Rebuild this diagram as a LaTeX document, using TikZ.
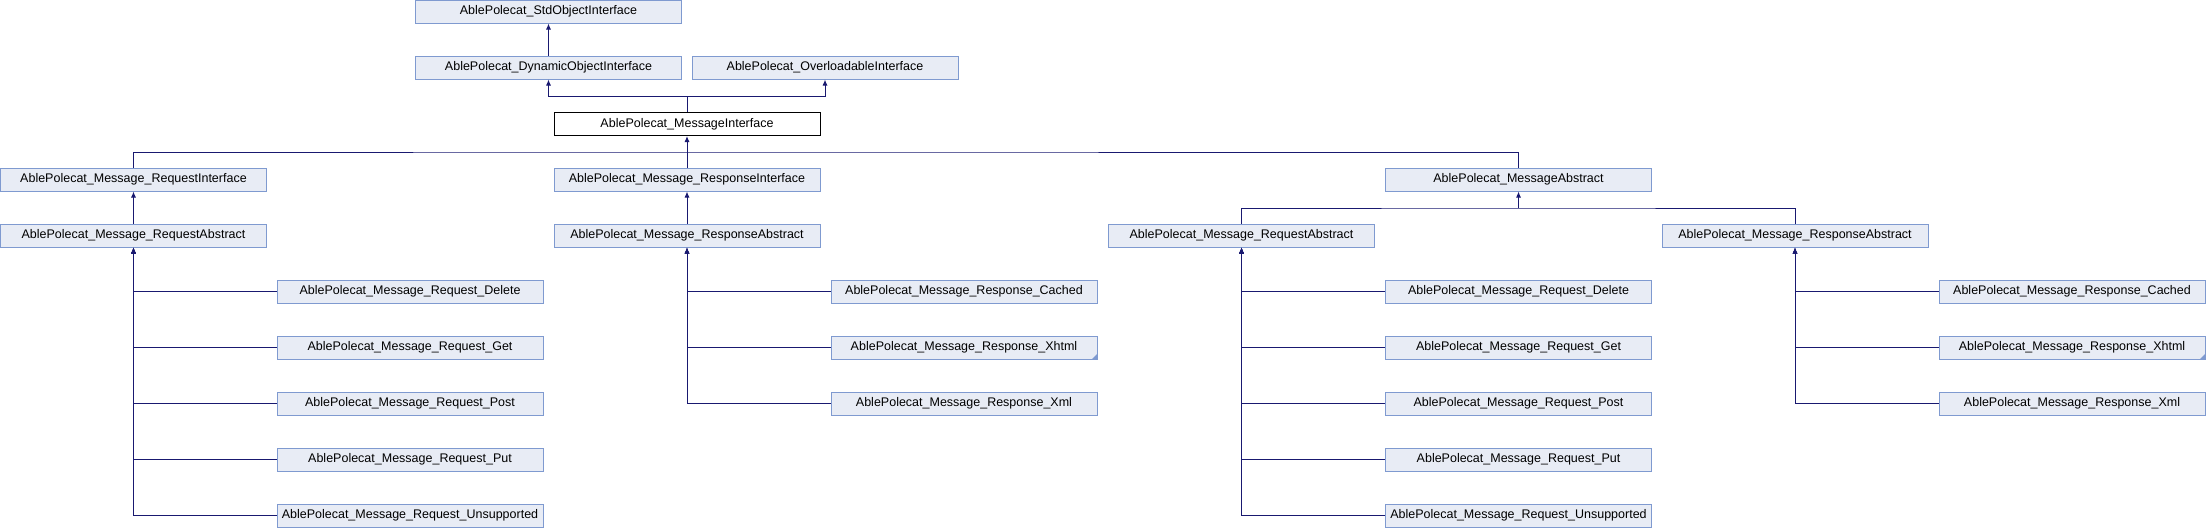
\documentclass[tikz,border=0pt]{standalone}
\usepackage{fontspec}
\setmainfont{Liberation Sans}
\usetikzlibrary{arrows.meta}
\definecolor{boxfill}{HTML}{E8ECF5}
\definecolor{boxline}{HTML}{7F9AD0}
\definecolor{edgeblue}{HTML}{191970}
\tikzset{
  cls/.style={draw=boxline, fill=boxfill, line width=1pt, minimum width=266pt,
    minimum height=23pt, inner sep=0pt, font=\fontsize{12.5}{14}\selectfont},
  cur/.style={cls, draw=black, fill=white},
  inh/.style={draw=edgeblue, line width=1pt, {Latex[length=6pt,width=5pt]}-},
  link/.style={draw=edgeblue, line width=1pt}
}
\begin{document}
\begin{tikzpicture}[x=1pt, y=-1pt]
				\useasboundingbox (0, 0) rectangle (2206, 528);
				
				% top of the hierarchy
				\node[cls] (stdobj) at (548.5, 11.5) {AblePolecat\_StdObjectInterface};
				\node[cls] (dynobj) at (548.5, 67.5) {AblePolecat\_DynamicObjectInterface};
				\node[cls] (overl) at (825, 67.5) {AblePolecat\_OverloadableInterface};
				\node[cur] (msgiface) at (687, 124) {AblePolecat\_MessageInterface};
				
				\node[cls] (reqiface) at (133.5, 179.5) {AblePolecat\_Message\_RequestInterface};
				\node[cls] (respiface) at (687, 179.5) {AblePolecat\_Message\_ResponseInterface};
				\node[cls] (msgabs) at (1518.5, 179.5) {AblePolecat\_MessageAbstract};
				
				\node[cls] (reqabsL) at (133.5, 235.5) {AblePolecat\_Message\_RequestAbstract};
				\node[cls] (respabsL) at (687, 235.5) {AblePolecat\_Message\_ResponseAbstract};
				\node[cls] (reqabsR) at (1241.5, 235.5) {AblePolecat\_Message\_RequestAbstract};
				\node[cls] (respabsR) at (1795, 235.5) {AblePolecat\_Message\_ResponseAbstract};
				
				% leaves, left side
				\node[cls] (delL) at (410, 291.5) {AblePolecat\_Message\_Request\_Delete};
				\node[cls] (getL) at (410, 347.5) {AblePolecat\_Message\_Request\_Get};
				\node[cls] (postL) at (410, 403.5) {AblePolecat\_Message\_Request\_Post};
				\node[cls] (putL) at (410, 459.5) {AblePolecat\_Message\_Request\_Put};
				\node[cls] (unsL) at (410, 515.5) {AblePolecat\_Message\_Request\_Unsupported};
				
				\node[cls] (cachedL) at (964, 291.5) {AblePolecat\_Message\_Response\_Cached};
				\node[cls] (xhtmlL) at (964, 347.5) {AblePolecat\_Message\_Response\_Xhtml};
				\node[cls] (xmlL) at (964, 403.5) {AblePolecat\_Message\_Response\_Xml};
				
				% leaves, right side
				\node[cls] (delR) at (1518.5, 291.5) {AblePolecat\_Message\_Request\_Delete};
				\node[cls] (getR) at (1518.5, 347.5) {AblePolecat\_Message\_Request\_Get};
				\node[cls] (postR) at (1518.5, 403.5) {AblePolecat\_Message\_Request\_Post};
				\node[cls] (putR) at (1518.5, 459.5) {AblePolecat\_Message\_Request\_Put};
				\node[cls] (unsR) at (1518.5, 515.5) {AblePolecat\_Message\_Request\_Unsupported};
				
				\node[cls] (cachedR) at (2072, 291.5) {AblePolecat\_Message\_Response\_Cached};
				\node[cls] (xhtmlR) at (2072, 347.5) {AblePolecat\_Message\_Response\_Xhtml};
				\node[cls] (xmlR) at (2072, 403.5) {AblePolecat\_Message\_Response\_Xml};
				
				% marks on the boxes with hidden children
				\fill[boxline] (xhtmlL.south east) -- ++(-6, 0) -- ++(6, -6) -- cycle;
				\fill[boxline] (xhtmlR.south east) -- ++(-6, 0) -- ++(6, -6) -- cycle;
				
				% junctions
				\coordinate (jtop) at (687, 96);
				\coordinate (jmid) at (687, 152);
				\coordinate (jabs) at (1518.5, 208);
				
				\draw[inh] (stdobj.south) -- (dynobj.north);
				\draw[inh] (dynobj.south) |- (jtop) -- (msgiface.north);
				\draw[inh] (overl.south) |- (jtop);
				
				\draw[inh] (msgiface.south) -- (jmid);
				\draw[link] (reqiface.north) |- (jmid) -| (msgabs.north);
				\draw[link] (respiface.north) -- (jmid);
				
				\draw[inh] (reqiface.south) -- (reqabsL.north);
				\draw[inh] (respiface.south) -- (respabsL.north);
				\draw[inh] (msgabs.south) -- (jabs);
				\draw[link] (reqabsR.north) |- (jabs) -| (respabsR.north);
				
				\draw[inh] (reqabsL.south) |- (delL.west);
				\draw[inh] (reqabsL.south) |- (getL.west);
				\draw[inh] (reqabsL.south) |- (postL.west);
				\draw[inh] (reqabsL.south) |- (putL.west);
				\draw[inh] (reqabsL.south) |- (unsL.west);
				
				\draw[inh] (respabsL.south) |- (cachedL.west);
				\draw[inh] (respabsL.south) |- (xhtmlL.west);
				\draw[inh] (respabsL.south) |- (xmlL.west);
				
				\draw[inh] (reqabsR.south) |- (delR.west);
				\draw[inh] (reqabsR.south) |- (getR.west);
				\draw[inh] (reqabsR.south) |- (postR.west);
				\draw[inh] (reqabsR.south) |- (putR.west);
				\draw[inh] (reqabsR.south) |- (unsR.west);
				
				\draw[inh] (respabsR.south) |- (cachedR.west);
				\draw[inh] (respabsR.south) |- (xhtmlR.west);
				\draw[inh] (respabsR.south) |- (xmlR.west);
			\end{tikzpicture}
\end{document}
